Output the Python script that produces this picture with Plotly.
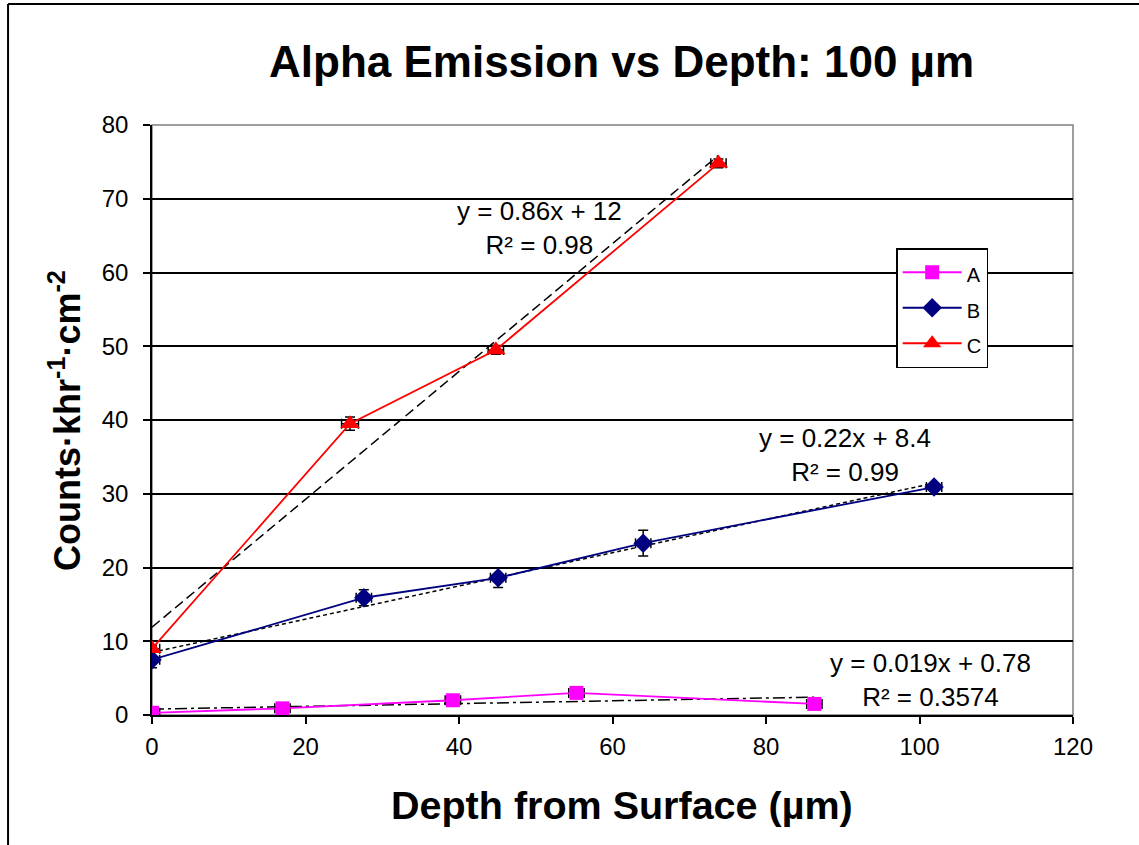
import numpy as np
import plotly.graph_objects as go

# ---- data ----
a_x = [0, 17, 39.2, 55.3, 86.3]
a_y = [0.3, 0.9, 2.0, 3.0, 1.5]
a_ex = [1.0, 1.0, 1.0, 1.0, 1.0]
a_ey = [0.3, 0.3, 0.4, 0.4, 0.3]

b_x = [0, 27.6, 45.1, 64.0, 101.9]
b_y = [7.5, 15.9, 18.6, 23.3, 30.9]
b_ex = [1.0, 1.0, 1.0, 1.0, 1.0]
b_ey = [1.1, 1.1, 1.3, 1.75, 0.5]

c_x = [0, 25.8, 44.8, 73.8]
c_y = [9.0, 39.5, 49.5, 74.8]
c_ex = [1.0, 1.1, 1.0, 1.0]
c_ey = [0.4, 0.9, 0.6, 0.6]

series_names = ["A", "B", "C"]
eq_texts = ["y = 0.019x + 0.78<br>R² = 0.3574",
            "y = 0.22x + 8.4<br>R² = 0.99",
            "y = 0.86x + 12<br>R² = 0.98"]
eq_pos = [(101.4, 4.75), (90.3, 35.3), (50.5, 66.0)]

x_ticks = [0, 20, 40, 60, 80, 100, 120]
y_ticks = [0, 10, 20, 30, 40, 50, 60, 70, 80]

title_text = "Alpha Emission vs Depth: 100 µm"
x_title = "Depth from Surface (µm)"
y_title = "Counts·khr<sup>-1</sup>·cm<sup>-2</sup>"

FONT = "Arial, Liberation Sans, sans-serif"

fig = go.Figure()

series = [
    (a_x, a_y, a_ex, a_ey, "#FF00FF", "square", 14, "12px,4px,3px,4px"),
    (b_x, b_y, b_ex, b_ey, "#000080", "diamond", 15, "4px,3px"),
    (c_x, c_y, c_ex, c_ey, "#FF0000", "triangle-up", 17, "10px,5px"),
]

# trendlines (least squares fits of the data)
for (xs, ys, ex, ey, col, sym, sz, dash) in series:
    k, b0 = np.polyfit(xs, ys, 1)
    tx = np.array([min(xs), max(xs)])
    fig.add_trace(go.Scatter(x=tx, y=k * tx + b0, mode="lines",
                             line=dict(color="black", width=1.5, dash=dash),
                             showlegend=False, hoverinfo="skip"))

for name, (xs, ys, ex, ey, col, sym, sz, dash) in zip(series_names, series):
    fig.add_trace(go.Scatter(
        x=xs, y=ys, name="<span style='font-size:20px'>" + name + "</span>",
        mode="lines+markers",
        line=dict(color=col, width=1.8),
        marker=dict(symbol=sym, size=sz, color=col, line=dict(width=0)),
        error_y=dict(type="data", array=ey, visible=True, color="black", thickness=1.5, width=5),
        error_x=dict(type="data", array=ex, visible=True, color="black", thickness=1.5, width=5),
    ))

for txt, (px, py) in zip(eq_texts, eq_pos):
    fig.add_annotation(x=px, y=py, xref="x", yref="y", text=txt, showarrow=False,
                       font=dict(family=FONT, size=26, color="black"), align="center")

# titles
fig.add_annotation(x=0.51, y=1.107, xref="paper", yref="paper", text="<b>" + title_text + "</b>",
                   showarrow=False, font=dict(family=FONT, size=44, color="black"),
                   xanchor="center", yanchor="middle")
fig.add_annotation(x=0.51, y=-0.1525, xref="paper", yref="paper", text="<b>" + x_title + "</b>",
                   showarrow=False, font=dict(family=FONT, size=39.5, color="black"),
                   xanchor="center", yanchor="middle")
fig.add_annotation(x=-0.0945, y=0.5, xref="paper", yref="paper", text="<b>" + y_title + "</b>",
                   showarrow=False, textangle=-90, font=dict(family=FONT, size=36, color="black"),
                   xanchor="center", yanchor="middle")

# plot area border (grey) and outer chart border
fig.add_shape(type="rect", xref="paper", yref="paper", x0=0, y0=0, x1=1, y1=1,
              line=dict(color="#808080", width=1.5), layer="below")
fig.add_shape(type="line", xref="paper", yref="paper", x0=-0.1563, x1=-0.1563, y0=-0.25, y1=1.205,
              line=dict(color="black", width=2))
fig.add_shape(type="line", xref="paper", yref="paper", x0=-0.1563, x1=1.1, y0=1.205, y1=1.205,
              line=dict(color="black", width=2))

fig.update_xaxes(range=[0, 120], tickvals=x_ticks, ticks="outside", ticklen=7, tickwidth=1.5,
                 tickcolor="black", showline=True, linecolor="black", linewidth=1.5,
                 showgrid=False, zeroline=False, ticklabelstandoff=2,
                 tickfont=dict(family=FONT, size=24, color="black"))
fig.update_yaxes(range=[0, 80], tickvals=y_ticks, ticks="outside", ticklen=7, tickwidth=1.5,
                 tickcolor="black", showline=True, linecolor="black", linewidth=1.5,
                 showgrid=True, gridcolor="black", gridwidth=1.5, zeroline=False,
                 ticklabelstandoff=10,
                 tickfont=dict(family=FONT, size=24, color="black"))

fig.update_layout(
    width=1139, height=845,
    margin=dict(l=152, r=66, t=125, b=130),
    paper_bgcolor="white", plot_bgcolor="white",
    font=dict(family=FONT, color="black"),
    legend=dict(x=0.808, y=0.7915, xanchor="left", yanchor="top",
                bordercolor="black", borderwidth=1.5, bgcolor="white",
                font=dict(family=FONT, size=25, color="black"),
                tracegroupgap=0, itemwidth=59),
    showlegend=True,
)

fig.write_html("out.html", config={"displayModeBar": False},
               post_script="document.body.style.margin='0px';")
